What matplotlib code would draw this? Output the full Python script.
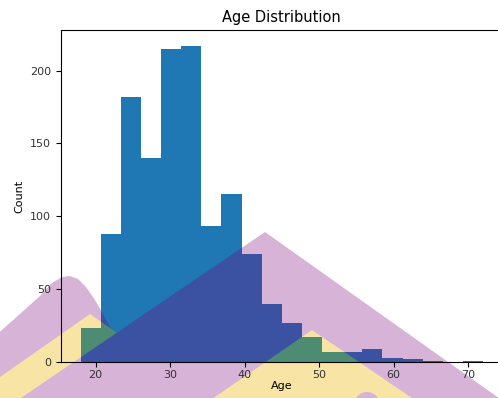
import matplotlib
matplotlib.use("Agg")
import matplotlib.pyplot as plt
import numpy as np
from matplotlib.patches import Polygon, Circle
from matplotlib.transforms import Affine2D

# age histogram: 20 equal bins between the youngest and oldest age
age_min = 18
age_max = 72
n_bins = 20
counts = [23, 88, 182, 140, 215, 217, 93, 115, 74, 40,
          27, 17, 7, 7, 9, 3, 2, 1, 0, 1]

edges = np.linspace(age_min, age_max, n_bins + 1)

fig = plt.figure(figsize=(4.98, 3.98), dpi=100)
fig.patch.set_facecolor("white")
ax = fig.add_axes([0.1215, 0.0905, 0.889, 0.834])
ax.set_facecolor("none")

n, bins, bars = ax.hist(edges[:-1], bins=edges, weights=counts, color="#1f77b4")

ax.set_title("Age Distribution", fontsize=10.5)
ax.set_xlabel("Age", fontsize=8, labelpad=0.5)
ax.set_ylabel("Count", fontsize=8)
ax.tick_params(labelsize=8, labelcolor="#333333")
ax.tick_params(axis="x", pad=2.5)

# background chevrons, given in pixel units (y pointing down)
px = Affine2D().scale(1 / 498, -1 / 398).translate(0, 1) + fig.transFigure

purple = "#d7b3d8"
yellow = "#f8e4a4"
purple_on_bar = "#3b52a3"
yellow_on_bar = "#4e8b73"


def chevron(x, y, sl, sr, reach=500):
    return [(x, y), (x + reach, y + reach * sr), (x - reach, y + reach * sl)]


# small rounded chevron at the left
left_peak = [(40, 296), (52, 283), (62, 277), (70, 276), (78, 279),
             (86, 287), (95, 300), (140, 380), (-300, 600)]

shapes = [
    (left_peak, purple, purple_on_bar),
    (chevron(90, 314, 0.7, 0.7), yellow, yellow_on_bar),
    (chevron(100, 352, 0.7, 0.7), purple, purple_on_bar),
    (chevron(265, 232, 0.68, 0.71), purple, purple_on_bar),
    (chevron(312, 330, 0.69, 0.68), yellow, yellow_on_bar),
]

for pts, col, _ in shapes:
    fig.patches.append(Polygon(pts, closed=True, transform=px, facecolor=col,
                               edgecolor="none", zorder=-1))
fig.patches.append(Circle((367, 405), 13, transform=px, facecolor=purple,
                          edgecolor="none", zorder=-1))

# the same chevrons seen through the bars, darker
for bar in bars:
    for pts, _, dark in shapes:
        p = Polygon(pts, closed=True, transform=px, facecolor=dark,
                    edgecolor="none", zorder=1.5)
        ax.add_patch(p)
        p.set_clip_path(bar)

fig.savefig("out.png", dpi=100, facecolor="white")
